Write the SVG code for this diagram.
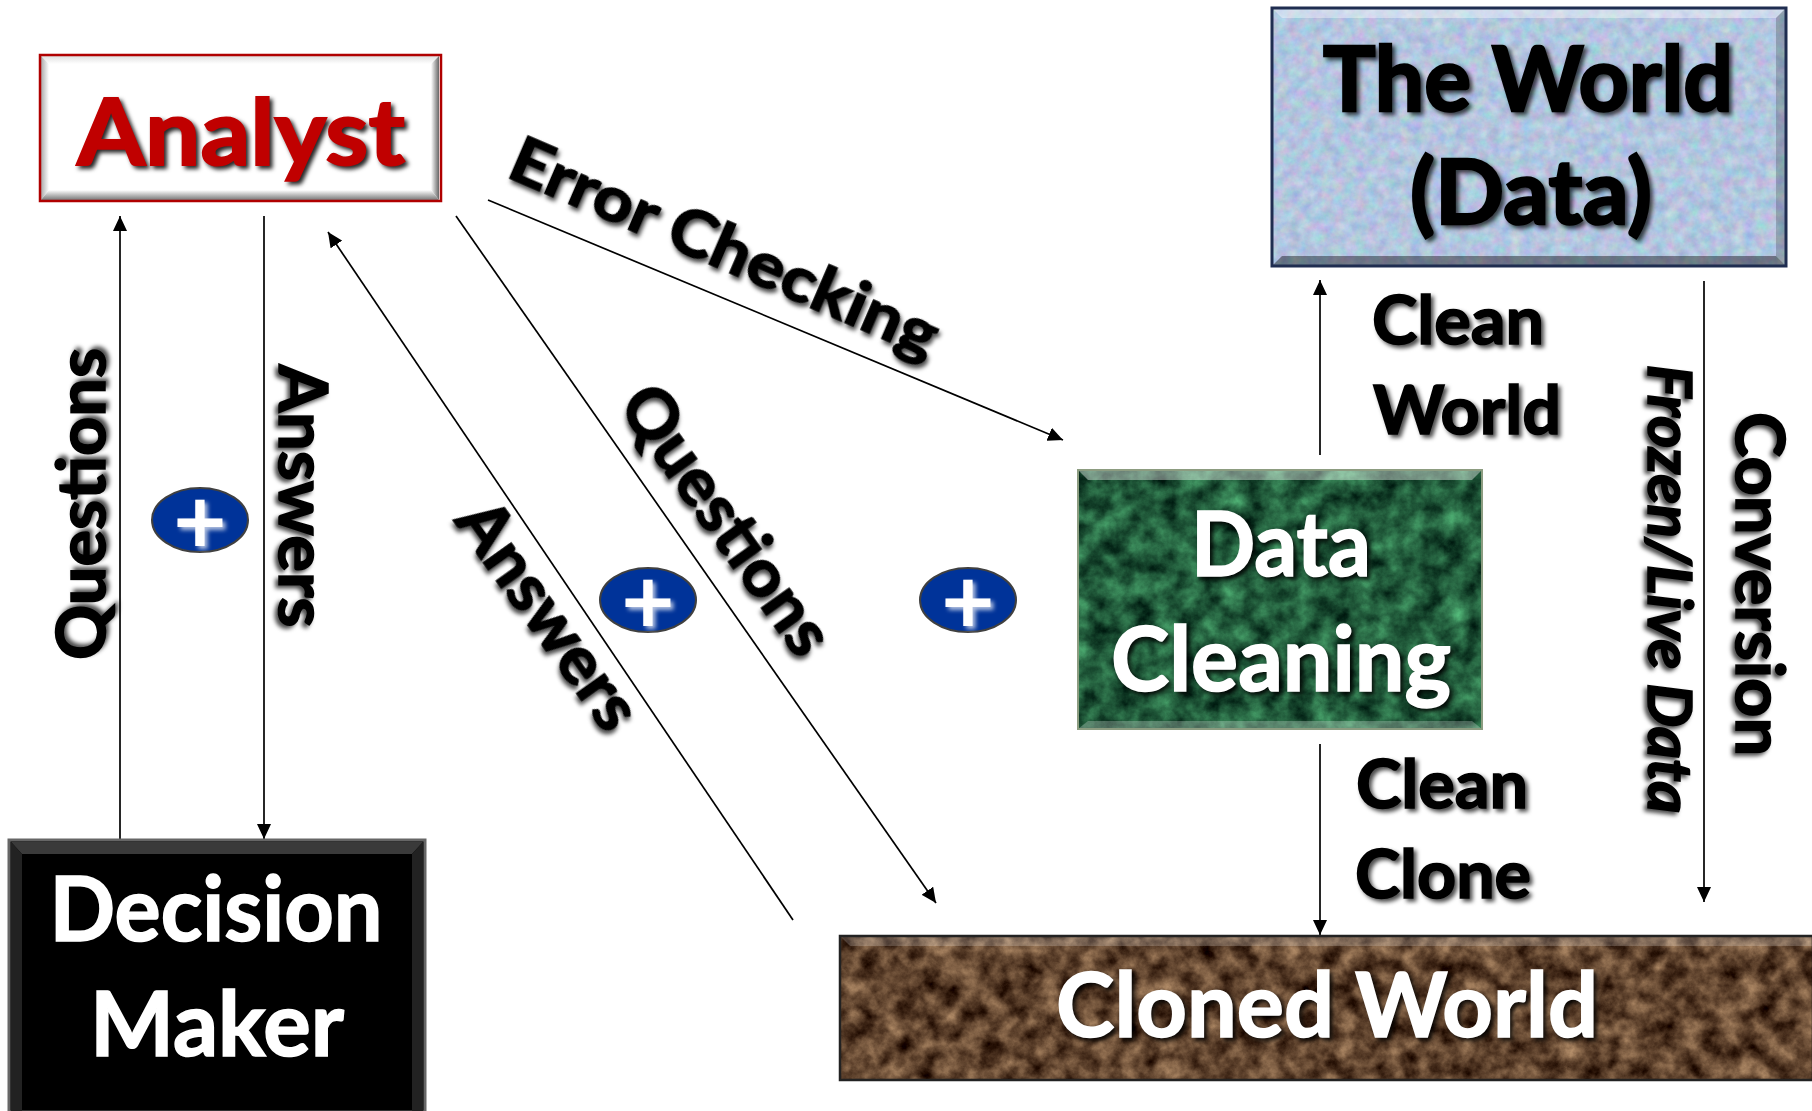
<svg xmlns="http://www.w3.org/2000/svg" width="1812" height="1111" viewBox="0 0 1812 1111">
<style>
text{font-family:Lato,Carlito,"Liberation Sans",sans-serif;font-weight:700;text-anchor:middle}
.lab{font-size:66px;fill:#000;stroke:#000;stroke-width:1.6px;filter:url(#blurshadow)}
.ttl{font-size:89px;fill:#fff;stroke:#fff;stroke-width:1.6px;filter:url(#shadow)}
.blk{font-size:90px;fill:#000;stroke:#000;stroke-width:2.5px;filter:url(#blurshadow)}
.plus{font-size:92px;fill:#fff;filter:url(#soft)}
.con{fill:none;stroke:#000;stroke-width:1.7}
.arr{marker-end:url(#tip)}
.pl{fill:#003399;stroke:#404040;stroke-width:2}
.hi{fill:#fff;opacity:.4}
.sh{fill:#000;opacity:.4}
</style>
<defs>
<marker id="tip" markerUnits="userSpaceOnUse" markerWidth="16" markerHeight="14" refX="15" refY="7" orient="auto"><path d="M0,0 L15,7 L0,14 Z" fill="#000"/></marker>
<linearGradient id="gT" x1="0" y1="0" x2="0" y2="1"><stop offset="0" stop-color="#e0e0e0"/><stop offset="1" stop-color="#fff"/></linearGradient>
<linearGradient id="gB" x1="0" y1="1" x2="0" y2="0"><stop offset="0" stop-color="#777"/><stop offset="1" stop-color="#fff"/></linearGradient>
<linearGradient id="gL" x1="0" y1="0" x2="1" y2="0"><stop offset="0" stop-color="#aaa"/><stop offset="1" stop-color="#fff"/></linearGradient>
<linearGradient id="gR" x1="1" y1="0" x2="0" y2="0"><stop offset="0" stop-color="#666"/><stop offset="1" stop-color="#fff"/></linearGradient>
<filter id="shadow" x="-10%" y="-20%" width="120%" height="140%" color-interpolation-filters="sRGB"><feDropShadow dx="3" dy="3" stdDeviation="2" flood-color="#000" flood-opacity=".85"/></filter>
<filter id="blurshadow" x="-10%" y="-20%" width="120%" height="140%" color-interpolation-filters="sRGB"><feDropShadow dx="3" dy="3" stdDeviation="2" flood-color="#000" flood-opacity=".7"/></filter>
<filter id="soft" x="-30%" y="-30%" width="160%" height="160%" color-interpolation-filters="sRGB"><feDropShadow dx="3" dy="3" stdDeviation="2" flood-color="#fff" flood-opacity=".7"/></filter>
<filter id="texW" x="0" y="0" width="100%" height="100%" color-interpolation-filters="sRGB"><feTurbulence type="fractalNoise" baseFrequency=".09" numOctaves="4" seed="4"/><feColorMatrix values=".3 0 0 0 .55  0 .25 0 0 .65  0 0 .15 0 .8  0 0 0 0 1"/><feComposite in2="SourceAlpha" operator="in"/></filter>
<filter id="texG" x="0" y="0" width="100%" height="100%" color-interpolation-filters="sRGB"><feTurbulence type="fractalNoise" baseFrequency=".045" numOctaves="5" seed="11"/><feColorMatrix values=".4 0 0 0 -.07  .75 0 0 0 -.02  .5 0 0 0 -.02  0 0 0 0 1"/><feComposite in2="SourceAlpha" operator="in"/></filter>
<filter id="texB" x="0" y="0" width="100%" height="100%" color-interpolation-filters="sRGB"><feTurbulence type="fractalNoise" baseFrequency=".05" numOctaves="5" seed="7"/><feColorMatrix values=".85 0 0 0 -.05  .75 0 0 0 -.11  .6 0 0 0 -.12  0 0 0 0 1"/><feComposite in2="SourceAlpha" operator="in"/></filter>
</defs>
<rect width="1812" height="1111" fill="#fff"/>
<g id="connectors">
<line class="con arr" x1="120" y1="839" x2="120" y2="216"/>
<line class="con arr" x1="264" y1="216" x2="264" y2="839"/>
<line class="con arr" x1="793" y1="920" x2="328" y2="232"/>
<line class="con arr" x1="456" y1="216" x2="936" y2="903"/>
<line class="con arr" x1="488" y1="200" x2="1063" y2="440"/>
<line class="con arr" x1="1320" y1="455" x2="1320" y2="280"/>
<line class="con arr" x1="1320" y1="744" x2="1320" y2="935"/>
<line class="con arr" x1="1704" y1="281" x2="1704" y2="902"/>
</g>
<g id="analyst">
<rect x="40" y="55" width="401" height="146" fill="#fff"/>
<path d="M41,56 L439,56 L431,64 L49,64 Z" fill="url(#gT)"/>
<path d="M41,56 L49,64 L49,190 L41,200 Z" fill="url(#gL)"/>
<path d="M439,56 L439,200 L431,190 L431,64 Z" fill="url(#gR)"/>
<path d="M41,200 L49,190 L431,190 L439,200 Z" fill="url(#gB)"/>
<rect x="40" y="55" width="401" height="146" fill="none" stroke="#b00000" stroke-width="2.500"/>
<text x="241" y="165" font-size="92" fill="#c00000" filter="url(#shadow)" textLength="328" lengthAdjust="spacingAndGlyphs" stroke="#c00000" stroke-width="2">Analyst</text>
</g>
<g id="world">
<rect x="1272" y="8" width="514" height="258" fill="#b5c6e0" filter="url(#texW)"/>
<path d="M1272,8 L1786,8 L1776,18 L1282,18 Z" class="hi"/>
<path d="M1272,266 L1786,266 L1776,256 L1282,256 Z" class="sh"/>
<path d="M1786,8 L1786,266 L1776,256 L1776,18 Z" fill="#000" opacity=".2"/>
<rect x="1272" y="8" width="514" height="258" fill="none" stroke="#1f2d50" stroke-width="3"/>
<text class="blk" x="1528" y="111" textLength="410" lengthAdjust="spacingAndGlyphs">The World</text>
<text class="blk" x="1531" y="224" textLength="242" lengthAdjust="spacingAndGlyphs">(Data)</text>
</g>
<g id="data-cleaning">
<rect x="1078" y="470" width="404" height="259" fill="#205c3c" filter="url(#texG)"/>
<path d="M1078,470 L1482,470 L1472,480 L1088,480 Z" class="hi"/>
<path d="M1078,729 L1482,729 L1472,721 L1088,721 Z" fill="#fff" opacity=".25"/>
<rect x="1078" y="470" width="404" height="259" fill="none" stroke="#8c9c80" stroke-width="2"/>
<text class="ttl" x="1281" y="576" textLength="180" lengthAdjust="spacingAndGlyphs">Data</text>
<text class="ttl" x="1281" y="691" textLength="340" lengthAdjust="spacingAndGlyphs">Cleaning</text>
</g>
<g id="cloned-world">
<rect x="840" y="936" width="973" height="144" fill="#5a3c28" filter="url(#texB)"/>
<path d="M840,936 L1812,936 L1812,946 L850,946 Z" fill="#fff" opacity=".2"/>
<rect x="840" y="936" width="973" height="144" fill="none" stroke="#222" stroke-width="2.500"/>
<text class="ttl" x="1327" y="1037" textLength="542" lengthAdjust="spacingAndGlyphs">Cloned World</text>
</g>
<g id="decision-maker">
<rect x="9" y="840" width="416" height="272" fill="#000" stroke="#666" stroke-width="3"/>
<path d="M11,842 L423,842 L412,854 L22,854 Z" fill="#3a3a3a"/>
<path d="M11,842 L22,854 L22,1111 L11,1111 Z" fill="#222"/>
<path d="M423,842 L412,854 L412,1111 L423,1111 Z" fill="#222"/>
<text class="ttl" x="216" y="941" textLength="333" lengthAdjust="spacingAndGlyphs" style="filter:none">Decision</text>
<text class="ttl" x="217" y="1056" textLength="254" lengthAdjust="spacingAndGlyphs" style="filter:none">Maker</text>
</g>
<g id="plus-1"><ellipse class="pl" cx="200" cy="520" rx="48" ry="32"/><text class="plus" x="200" y="554">+</text></g>
<g id="plus-2"><ellipse class="pl" cx="648" cy="600" rx="48" ry="32"/><text class="plus" x="648" y="634">+</text></g>
<g id="plus-3"><ellipse class="pl" cx="968" cy="600" rx="48" ry="32"/><text class="plus" x="968" y="634">+</text></g>
<g id="labels">
<text class="lab" transform="translate(105,504) rotate(-90)" textLength="312" lengthAdjust="spacingAndGlyphs">Questions</text>
<text class="lab" transform="translate(279,496) rotate(90)" textLength="263" lengthAdjust="spacingAndGlyphs">Answers</text>
<text class="lab" transform="translate(530,628) rotate(54.500)" textLength="264" lengthAdjust="spacingAndGlyphs">Answers</text>
<text class="lab" transform="translate(708,533) rotate(54.500)" textLength="314" lengthAdjust="spacingAndGlyphs">Questions</text>
<text class="lab" font-size="63" style="font-size:63px" transform="translate(716,267) rotate(23.300)" textLength="460" lengthAdjust="spacingAndGlyphs">Error Checking</text>
<text class="lab" x="1458" y="344" textLength="172" lengthAdjust="spacingAndGlyphs">Clean</text>
<text class="lab" x="1467" y="434" textLength="188" lengthAdjust="spacingAndGlyphs">World</text>
<text class="lab" x="1442" y="808" textLength="172" lengthAdjust="spacingAndGlyphs">Clean</text>
<text class="lab" x="1443" y="898" textLength="176" lengthAdjust="spacingAndGlyphs">Clone</text>
<text class="lab" font-style="italic" style="font-size:62px" transform="translate(1648,589) rotate(90)" textLength="449" lengthAdjust="spacingAndGlyphs">Frozen/Live Data</text>
<text class="lab" transform="translate(1736,584) rotate(90)" textLength="344" lengthAdjust="spacingAndGlyphs">Conversion</text>
</g>
</svg>
